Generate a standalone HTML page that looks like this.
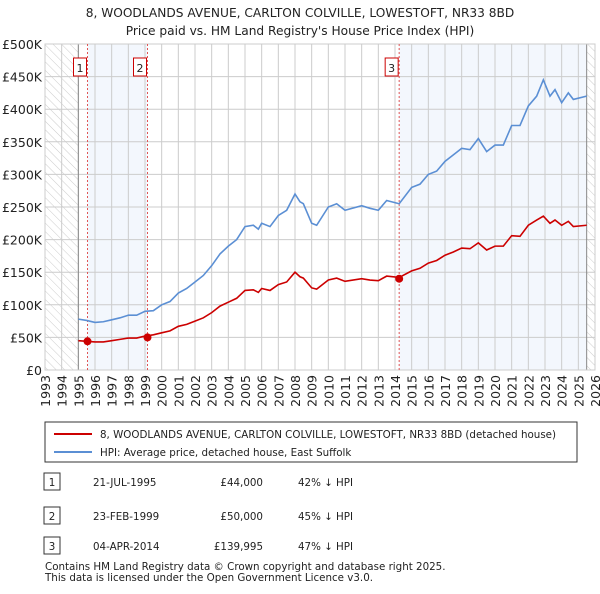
<!DOCTYPE html>
<html><head><meta charset="utf-8"><style>
body{margin:0;background:#fff;font-family:"DejaVu Sans","Liberation Sans",sans-serif;}
svg text{font-family:"DejaVu Sans","Liberation Sans",sans-serif;fill:#222;}
</style></head><body>
<svg id="c" width="600" height="590" xmlns="http://www.w3.org/2000/svg">
<defs><pattern id="hatch" width="6" height="6" patternUnits="userSpaceOnUse" patternTransform="rotate(-45)"><line x1="0" y1="0" x2="0" y2="6" stroke="#ccc" stroke-width="1"/></pattern></defs>
<text x="300" y="17" text-anchor="middle" font-size="12.2">8, WOODLANDS AVENUE, CARLTON COLVILLE, LOWESTOFT, NR33 8BD</text>
<text x="300" y="35" text-anchor="middle" font-size="12.2">Price paid vs. HM Land Registry's House Price Index (HPI)</text>
<g id="plot"></g>
<g id="legend">
<rect x="45" y="422" width="532" height="40" fill="#fff" stroke="#333"/>
<line x1="54" y1="434" x2="92" y2="434" stroke="#cc0000" stroke-width="2"/>
<text x="100" y="438" font-size="10.3">8, WOODLANDS AVENUE, CARLTON COLVILLE, LOWESTOFT, NR33 8BD (detached house)</text>
<line x1="54" y1="452" x2="92" y2="452" stroke="#5b8fd4" stroke-width="2"/>
<text x="100" y="456" font-size="10.3">HPI: Average price, detached house, East Suffolk</text>
</g>
<g id="table" font-size="10.3">
<rect x="44" y="473" width="16" height="17" fill="#fff" stroke="#333"/><text x="52" y="486" text-anchor="middle">1</text>
<text x="93" y="486">21-JUL-1995</text><text x="263" y="486" text-anchor="end">£44,000</text><text x="298" y="486">42% ↓ HPI</text>
<rect x="44" y="507" width="16" height="17" fill="#fff" stroke="#333"/><text x="52" y="520" text-anchor="middle">2</text>
<text x="93" y="520">23-FEB-1999</text><text x="263" y="520" text-anchor="end">£50,000</text><text x="298" y="520">45% ↓ HPI</text>
<rect x="44" y="537" width="16" height="17" fill="#fff" stroke="#333"/><text x="52" y="550" text-anchor="middle">3</text>
<text x="93" y="550">04-APR-2014</text><text x="263" y="550" text-anchor="end">£139,995</text><text x="298" y="550">47% ↓ HPI</text>
</g>
<text x="45" y="570" font-size="10.3" fill="#444">Contains HM Land Registry data © Crown copyright and database right 2025.</text>
<text x="45" y="581" font-size="10.3" fill="#444">This data is licensed under the Open Government Licence v3.0.</text>
</svg>
<script>
const hpiYears=[1995.0,1995.5,1996,1996.5,1997,1997.5,1998,1998.5,1999,1999.5,2000,2000.5,2001,2001.5,2002,2002.5,2003,2003.5,2004,2004.5,2005,2005.5,2005.8,2006,2006.5,2007,2007.5,2008,2008.3,2008.5,2009,2009.3,2010,2010.5,2011,2012,2012.5,2013,2013.5,2014.25,2015,2015.5,2016,2016.5,2017,2017.5,2018,2018.5,2019,2019.5,2020,2020.5,2021,2021.5,2022,2022.5,2022.9,2023.3,2023.6,2024,2024.4,2024.7,2025.5];
const hpiValues=[78,76,73,74,77,80,84,84,90,91,100,105,118,125,135,145,160,178,190,200,220,222,216,225,220,237,245,270,258,255,225,222,250,255,245,252,248,245,260,255,280,285,300,305,320,330,340,338,355,335,345,345,375,375,405,420,445,420,430,410,425,415,420];
const priceValues=[45,44,43,43,45,47,49,49,52,54,57,60,67,70,75,80,88,98,104,110,122,123,119,125,122,131,135,150,143,141,126,124,138,141,136,140,138,137,144,142,152,156,164,168,176,181,187,186,195,184,190,190,206,205,222,230,236,225,230,222,228,220,222];
const saleYears=[1995.55,1999.15,2014.25];
const saleValues=[44,50,139.995];
const saleLabels=["1","2","3"];
const yTicks=[0,50,100,150,200,250,300,350,400,450,500];
const yTickLabels=["£0","£50K","£100K","£150K","£200K","£250K","£300K","£350K","£400K","£450K","£500K"];
const xTicks=[1993,1994,1995,1996,1997,1998,1999,2000,2001,2002,2003,2004,2005,2006,2007,2008,2009,2010,2011,2012,2013,2014,2015,2016,2017,2018,2019,2020,2021,2022,2023,2024,2025,2026];

const X0=45,X1=595,Y0=370,Y1=44;
const xs=y=>X0+(y-1993)/(2026-1993)*(X1-X0);
const ys=v=>Y0-v/500*(Y0-Y1);
const NS="http://www.w3.org/2000/svg";
const g=document.getElementById('plot');
function mk(t,a){const e=document.createElementNS(NS,t);for(const k in a)e.setAttribute(k,a[k]);g.appendChild(e);return e;}
const dataEnd=2025.5;
let r;
r=mk('rect',{x:X0,y:Y1,width:xs(1995)-X0,height:Y0-Y1,fill:'url(#hatch)'});

r=mk('rect',{x:xs(dataEnd),y:Y1,width:X1-xs(dataEnd),height:Y0-Y1,fill:'url(#hatch)'});

r=mk('rect',{x:xs(saleYears[0]),y:Y1,width:xs(saleYears[1])-xs(saleYears[0]),height:Y0-Y1,fill:'#eef3fc',opacity:0.7});

r=mk('rect',{x:xs(saleYears[2]),y:Y1,width:xs(dataEnd)-xs(saleYears[2]),height:Y0-Y1,fill:'#eef3fc',opacity:0.7});

yTicks.forEach((v,i)=>{
 let l=mk('line',{x1:X0,x2:X1,y1:ys(v),y2:ys(v),stroke:'#ccc'});
 
 let t=mk('text',{x:X0-3,y:ys(v)+5,'text-anchor':'end','font-size':12.5});t.textContent=yTickLabels[i];
 
});
xTicks.forEach(y=>{
 let l=mk('line',{x1:xs(y),x2:xs(y),y1:Y1,y2:Y0,stroke:'#ccc'});
 
 let t=mk('text',{x:0,y:0,'text-anchor':'end','font-size':12.5,transform:`translate(${xs(y)+5},${Y0+5}) rotate(-90)`});t.textContent=y;
 
});
[xs(1995),xs(dataEnd)].forEach(x=>{let l=mk('line',{x1:x,x2:x,y1:Y1,y2:Y0,stroke:'#888'});
 });
r=mk('rect',{x:X0,y:Y1,width:X1-X0,height:Y0-Y1,fill:'none',stroke:'#ccc'});

saleYears.forEach((y,i)=>{
 let l=mk('line',{x1:xs(y),x2:xs(y),y1:Y1,y2:Y0,stroke:'#e05555','stroke-dasharray':'2,2'});
 
 let b=mk('rect',{x:xs(y)-14,y:58,width:13,height:18,fill:'#fff',stroke:'#cc0000'});
 
 let t=mk('text',{x:xs(y)-7.5,y:72,'text-anchor':'middle','font-size':11});t.textContent=saleLabels[i];
 
});
let p=mk('polyline',{points:hpiYears.map((y,i)=>xs(y)+','+ys(hpiValues[i])).join(' '),fill:'none',stroke:'#5b8fd4','stroke-width':1.6});

p=mk('polyline',{points:hpiYears.map((y,i)=>xs(y)+','+ys(priceValues[i])).join(' '),fill:'none',stroke:'#cc0000','stroke-width':1.6});

saleYears.forEach((y,i)=>{
 let c=mk('circle',{cx:xs(y),cy:ys(saleValues[i]),r:4,fill:'#cc0000'});
 
});
</script>
</body></html>
